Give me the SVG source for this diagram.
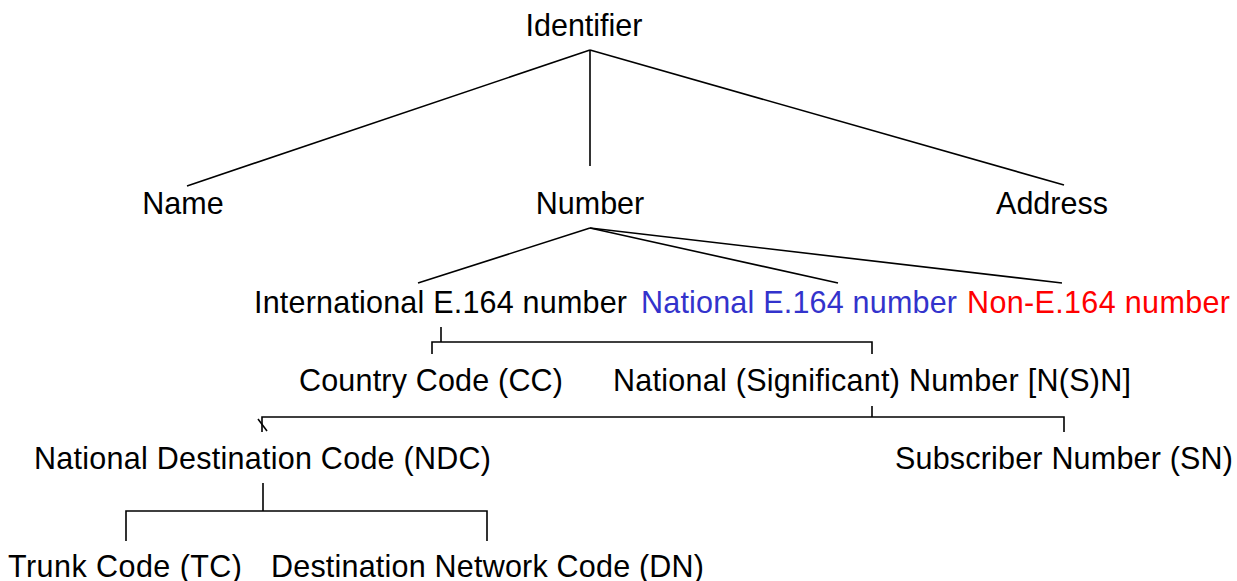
<svg xmlns="http://www.w3.org/2000/svg" width="1237" height="581" viewBox="0 0 1237 581">
<style>
text{font-family:"Liberation Sans",Arial,sans-serif;font-size:30.5px;fill:#000}
.blue{fill:#3333cc}
.red{fill:#ff0000}
#connectors line,#connectors polyline{stroke:#000;stroke-width:1.6;fill:none}
</style>
<rect width="1237" height="581" fill="#fff"/>
<g id="connectors">
<line x1="590" y1="50" x2="187" y2="186"/>
<line x1="590" y1="50" x2="590" y2="166"/>
<line x1="590" y1="50" x2="1064" y2="185"/>
<line x1="590" y1="228" x2="418" y2="283"/>
<line x1="590" y1="228" x2="838" y2="283"/>
<line x1="590" y1="228" x2="1062" y2="283"/>
<line x1="441" y1="327" x2="441" y2="342"/>
<polyline points="432,354 432,342 872,342 872,354"/>
<line x1="872" y1="406" x2="872" y2="417"/>
<polyline points="262,432 262,417 1064,417 1064,432"/>
<line x1="258" y1="419" x2="267" y2="431"/>
<line x1="263" y1="483" x2="263" y2="511"/>
<polyline points="126,541 126,511 487,511 487,541"/>
</g>
<g id="identifier"><text x="584" y="36" text-anchor="middle">Identifier</text></g>
<g id="name"><text x="183" y="214" text-anchor="middle">Name</text></g>
<g id="number"><text x="590" y="214" text-anchor="middle">Number</text></g>
<g id="address"><text x="1052" y="214" text-anchor="middle">Address</text></g>
<g id="international"><text x="254" y="313" textLength="373">International E.164 number</text></g>
<g id="national"><text x="641" y="313" class="blue" textLength="316">National E.164 number</text></g>
<g id="non-e164"><text x="967" y="313" class="red" textLength="263">Non-E.164 number</text></g>
<g id="cc"><text x="299" y="391" textLength="264">Country Code (CC)</text></g>
<g id="nsn"><text x="613" y="391" textLength="518">National (Significant) Number [N(S)N]</text></g>
<g id="ndc"><text x="34" y="469" textLength="457">National Destination Code (NDC)</text></g>
<g id="sn"><text x="895" y="469" textLength="338">Subscriber Number (SN)</text></g>
<g id="tc"><text x="8" y="577" textLength="234">Trunk Code (TC)</text></g>
<g id="dn"><text x="271" y="577" textLength="433">Destination Network Code (DN)</text></g>
</svg>
